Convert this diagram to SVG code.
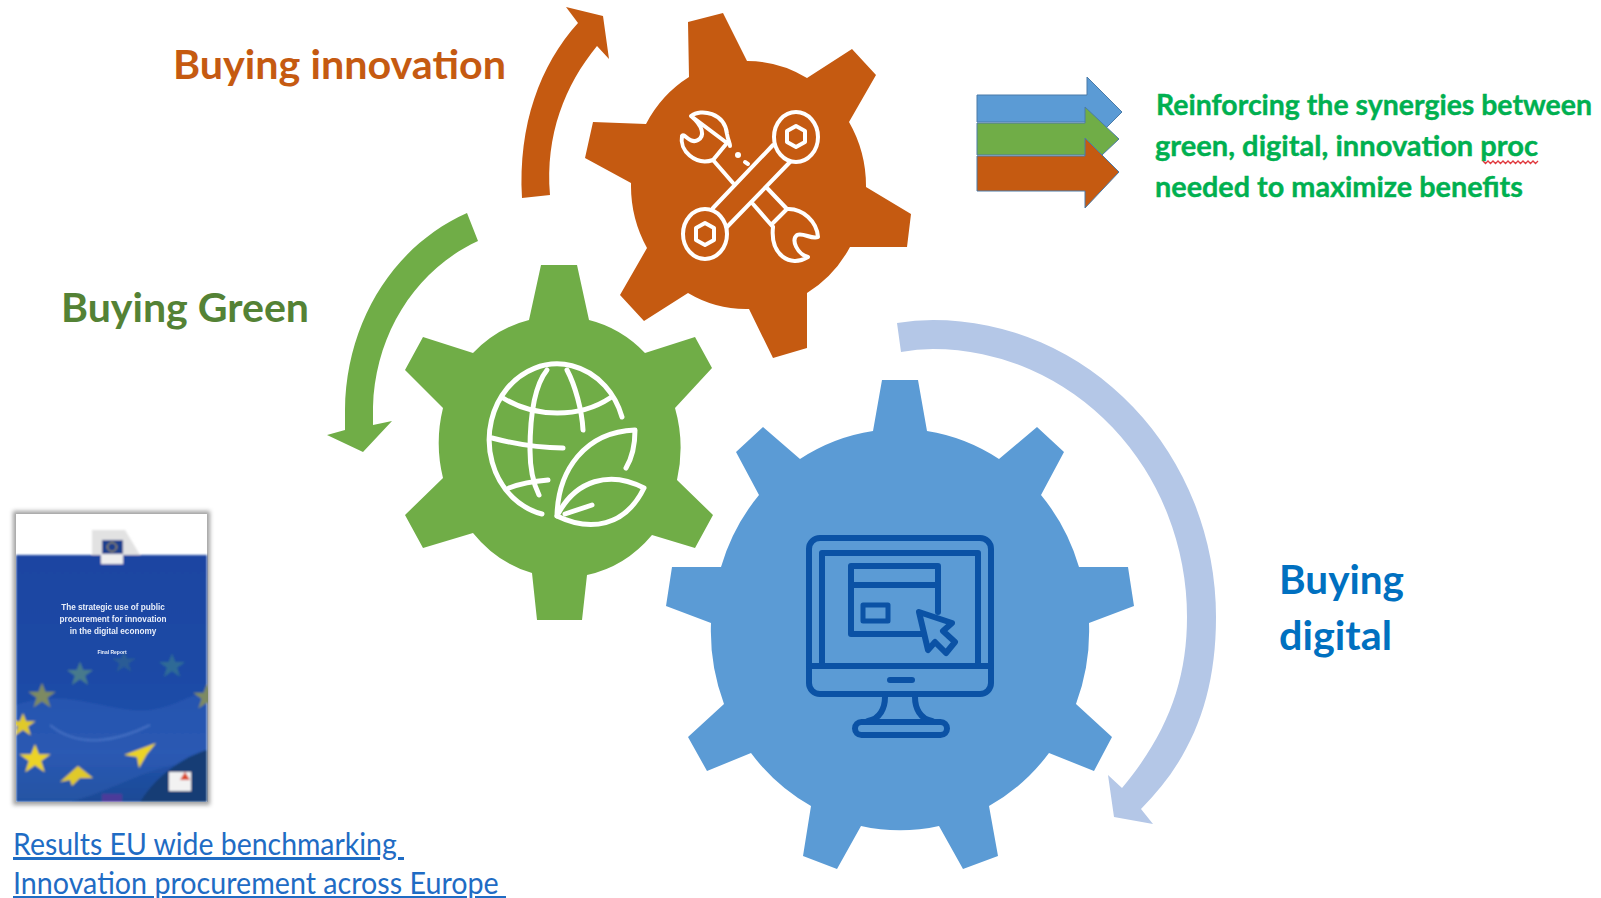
<svg xmlns="http://www.w3.org/2000/svg" xmlns:xlink="http://www.w3.org/1999/xlink" width="1601" height="898" viewBox="0 0 1601 898">
<style>
.lbl{font-family:Lato,"Open Sans",Arial,sans-serif;font-weight:700;font-size:41px}
.syn{font-family:Lato,"Open Sans",Arial,sans-serif;font-weight:700;font-size:29px;fill:#00b050;stroke:#00b050;stroke-width:0.4}
.lnk{font-family:Lato,"Open Sans",Arial,sans-serif;font-size:30px;fill:#1f6cc4;text-decoration:underline;white-space:pre}
.w{fill:none;stroke:#fff;stroke-linecap:round;stroke-linejoin:round}
.b{fill:none;stroke:#0b52a5;stroke-linecap:round;stroke-linejoin:round}
.cov{font-family:"Liberation Sans",Arial,sans-serif;font-weight:700;fill:#e8eefa;text-anchor:middle}
.arr{stroke:#4a7ba8;stroke-width:1}
</style>
<defs>
<polygon id="star" points="0,-12 3.2,-3.8 12.5,-3.8 5,1.6 7.8,10.5 0,5 -7.8,10.5 -5,1.6 -12.5,-3.8 -3.2,-3.8"/>
<linearGradient id="cv" x1="0" y1="0" x2="0" y2="1">
<stop offset="0" stop-color="#1a45a2"/><stop offset="0.5" stop-color="#1a4aa6"/><stop offset="0.8" stop-color="#2353ac"/><stop offset="1" stop-color="#1b4a96"/>
</linearGradient>
<filter id="soft" x="-5%" y="-5%" width="110%" height="110%"><feGaussianBlur stdDeviation="1"/></filter>
<filter id="tsoft" x="-5%" y="-20%" width="110%" height="140%"><feGaussianBlur stdDeviation="0.35"/></filter>
<filter id="shadow" x="-5%" y="-5%" width="110%" height="110%"><feGaussianBlur stdDeviation="2"/></filter>
<clipPath id="cc"><rect x="16" y="514" width="192" height="288"/></clipPath>
</defs>
<rect width="1601" height="898" fill="#fff"/>

<g id="connectors">
<path fill="#c55a11" d="M522 198C518 125 540 65 578 23L566 7L603 16L609 59L597 46C565 85 545 135 550 195Z"/>
<path fill="#70ad47" d="M467 213C395 245 346 320 345 410L345 430L327 435L363 452L392 421L373 425L373 407C375 335 415 270 478 241Z"/>
<path fill="#b4c7e7" d="M897 323Q915 320 933 320A283 297 0 0 1 1216 617C1216 700 1190 760 1141 809L1153 824L1114 817L1108 775L1122 788C1168 733 1187 680 1187 617A254 268 0 0 0 933 349Q917 349 901 352Z"/>
</g>

<g id="gear-digital">
<path fill="#5b9bd5" d="M882 380L918 380L927 431A189 199 0 0 1 999 459L1037 427L1064 452L1041 495A189 199 0 0 1 1079 567L1128 567L1134 606L1089 623A189 199 0 0 1 1076 704L1112 737L1094 771L1049 753A189 199 0 0 1 989 806L998 856L963 869L939 826A189 199 0 0 1 861 826L837 869L803 856L811 806A189 199 0 0 1 751 753L707 771L688 737L724 704A189 199 0 0 1 711 623L666 606L672 567L721 567A189 199 0 0 1 759 495L736 452L763 427L800 459A189 199 0 0 1 873 431Z"/>
<g class="b" stroke-width="6">
<rect x="809" y="538" width="182" height="156" rx="11"/>
<path d="M809 666H991M822 666V553H978V666"/>
<path d="M938 612V566H851V634H923M851 585H938"/>
<rect x="863" y="605" width="25" height="16" stroke-width="5"/>
<path d="M919 612L952 623L943 631L955 642L946 653L935 642L928 650Z"/>
<path d="M890 680H912"/>
<path d="M885 697C885 708 880 719 868 721M915 697C915 708 920 719 932 721"/>
<rect x="855" y="722" width="92" height="13" rx="6.5"/>
</g>
</g>

<g id="gear-green">
<path fill="#70ad47" d="M541 265L577 265L589 320A120 133 0 0 1 645 353L695 337L712 368L675 408A120 133 0 0 1 677 480L713 515L695 548L652 535A120 133 0 0 1 587 575L582 620L537 620L532 573A120 133 0 0 1 473 533L423 548L405 515L443 478A120 133 0 0 1 443 408L405 370L423 337L473 353A120 133 0 0 1 529 320Z"/>
<g class="w" stroke-width="5">
<path d="M622 417A68 76 0 1 0 542 514"/>
<path d="M547 370C535 385 530 415 530 450C530 470 534 485 539 495"/>
<path d="M567 370C575 385 582 410 583 430"/>
<path d="M503 398C535 418 580 418 610 398"/>
<path d="M492 438C515 444 540 448 563 448"/>
<path d="M509 488C522 483 535 481 548 480"/>
<path d="M557 516C558 470 585 432 635 430C635 445 632 458 626 468"/>
<path d="M557 516C575 480 610 470 644 488C625 527 590 532 557 516Z"/>
<path d="M565 514L592 505"/>
</g>
</g>

<g id="gear-innovation">
<path fill="#c55a11" d="M688 22L723 13L747 61A118 124 0 0 1 807 78L852 49L876 75L849 122A118 124 0 0 1 866 187L911 214L907 247L850 247A118 124 0 0 1 807 293L807 348L773 358L749 309A118 124 0 0 1 688 293L644 321L620 295L647 248A118 124 0 0 1 631 183L585 158L593 122L646 124A118 124 0 0 1 689 77Z"/>
<g class="w" stroke-width="4">
<ellipse cx="796" cy="137" rx="22" ry="25"/>
<ellipse cx="705" cy="234" rx="22" ry="25"/>
<path d="M796 126L805 131V142L796 147L787 142V131Z"/>
<path d="M705 223L714 228V240L705 245L696 240V228Z"/>
<path d="M773 145L713 208M790 162L727 227"/>
<path d="M691 116C701 108 725 113 727 134C728 140 730 143 730 146M727 143L713 160C695 166 679 150 682 136C684 132 690 145 698 140C705 136 703 126 691 116Z"/>
<path d="M713 160L733 183M767 188L787 209M753 204L773 227M773 223L787 209"/>
<path d="M787 209C803 208 817 222 818 237C812 240 803 232 797 235C791 240 797 254 808 257C790 268 770 255 773 227"/>
<path d="M745 162L748 164"/>
</g>
<ellipse cx="738" cy="155" rx="3" ry="3" fill="#fff"/>
</g>

<g id="label-innovation"><text class="lbl" x="173" y="79" fill="#c55a11" textLength="333" lengthAdjust="spacingAndGlyphs">Buying innovation</text></g>
<g id="label-green"><text class="lbl" x="61" y="322" fill="#548235" textLength="248" lengthAdjust="spacingAndGlyphs">Buying Green</text></g>
<g id="label-digital">
<text class="lbl" x="1279" y="594" fill="#0070c0" textLength="125" lengthAdjust="spacingAndGlyphs">Buying</text>
<text class="lbl" x="1279" y="650" fill="#0070c0" textLength="113" lengthAdjust="spacingAndGlyphs">digital</text>
</g>

<g id="synergy-arrows">
<path class="arr" fill="#5b9bd5" d="M977 95H1087V77L1122 112L1087 147V122H977Z"/>
<path class="arr" fill="#70ad47" d="M977 123H1085V107L1119 139L1085 171V155H977Z"/>
<path class="arr" fill="#c55a11" d="M977 156H1085V138L1119 172L1085 208V191H977Z"/>
</g>
<g id="synergy-text">
<text class="syn" x="1156" y="115" textLength="436" lengthAdjust="spacingAndGlyphs">Reinforcing the synergies between</text>
<text class="syn" x="1155" y="156" textLength="383" lengthAdjust="spacingAndGlyphs">green, digital, innovation proc</text>
<text class="syn" x="1155" y="197" textLength="368" lengthAdjust="spacingAndGlyphs">needed to maximize benefits</text>
<path d="M1483 161l2.5 2.5 2.5-2.5 2.5 2.5 2.5-2.5 2.5 2.5 2.5-2.5 2.5 2.5 2.5-2.5 2.5 2.5 2.5-2.5 2.5 2.5 2.5-2.5 2.5 2.5 2.5-2.5 2.5 2.5 2.5-2.5 2.5 2.5 2.5-2.5 2.5 2.5 2.5-2.5 2.5 2.5 2.5-2.5" fill="none" stroke="#e0393e" stroke-width="1.3"/>
</g>

<g id="report-cover">
<rect x="13" y="511" width="197" height="294" fill="#555" opacity="0.55" filter="url(#shadow)"/>
<rect x="16" y="514" width="191" height="288" fill="#fff"/>
<g clip-path="url(#cc)" filter="url(#soft)">
<rect x="16" y="555" width="191" height="247" fill="url(#cv)"/>
<path d="M16 705C60 690 90 705 130 710S190 690 207 695V770C170 750 120 790 70 802H16Z" fill="#3b6bc4" opacity="0.3"/>
<path d="M140 802C160 770 190 755 207 750V802Z" fill="#143c74"/>
<path d="M50 725C80 750 120 740 150 725" fill="none" stroke="#5d86d4" stroke-width="2" opacity="0.5"/>
<path d="M92 530H125L140 555H92Z" fill="#e2e2e2"/>
<rect x="102" y="540" width="21" height="14" fill="#1d3f8f"/>
<circle cx="112" cy="547" r="4.5" fill="none" stroke="#b5a83a" stroke-width="1"/>
<rect x="101" y="554" width="22" height="10" fill="#eee"/>
<use xlink:href="#star" href="#star" transform="translate(80 674) scale(1.05)" fill="#467a8c"/>
<use xlink:href="#star" href="#star" transform="translate(124 662) scale(0.95)" fill="#2a5c96"/>
<use xlink:href="#star" href="#star" transform="translate(172 666) scale(1.05)" fill="#2f6a96"/>
<use xlink:href="#star" href="#star" transform="translate(42 696) scale(1.1)" fill="#7d8a62"/>
<use xlink:href="#star" href="#star" transform="translate(207 697) scale(1.1)" fill="#7d8a62"/>
<use xlink:href="#star" href="#star" transform="translate(23 725) scale(1)" fill="#e0c92c"/>
<use xlink:href="#star" href="#star" transform="translate(35 759) scale(1.25)" fill="#ecd326"/>
<path d="M124 755L156 743L147 754L139 768L137 757Z" fill="#ecd326"/>
<path d="M60 782L78 766L93 778L80 778L72 786L70 780Z" fill="#e0c92c"/>
<rect x="102" y="794" width="20" height="8" fill="#4b3a9a"/>
<rect x="169" y="772" width="22" height="19" fill="#f2f2f2"/>
<path d="M185 772L190 780H180Z" fill="#d9472b"/>
</g>
<g filter="url(#tsoft)">
<text class="cov" x="113" y="610" font-size="8.2">The strategic use of public</text>
<text class="cov" x="113" y="622" font-size="8.2">procurement for innovation</text>
<text class="cov" x="113" y="634" font-size="8.2">in the digital economy</text>
<text class="cov" x="112" y="654" font-size="5">Final Report</text>
</g>
</g>

<g id="report-link">
<text class="lnk" x="13" y="855" textLength="391" lengthAdjust="spacingAndGlyphs">Results EU wide benchmarking </text>
<text class="lnk" x="13" y="894" textLength="493" lengthAdjust="spacingAndGlyphs">Innovation procurement across Europe </text>
</g>
</svg>
